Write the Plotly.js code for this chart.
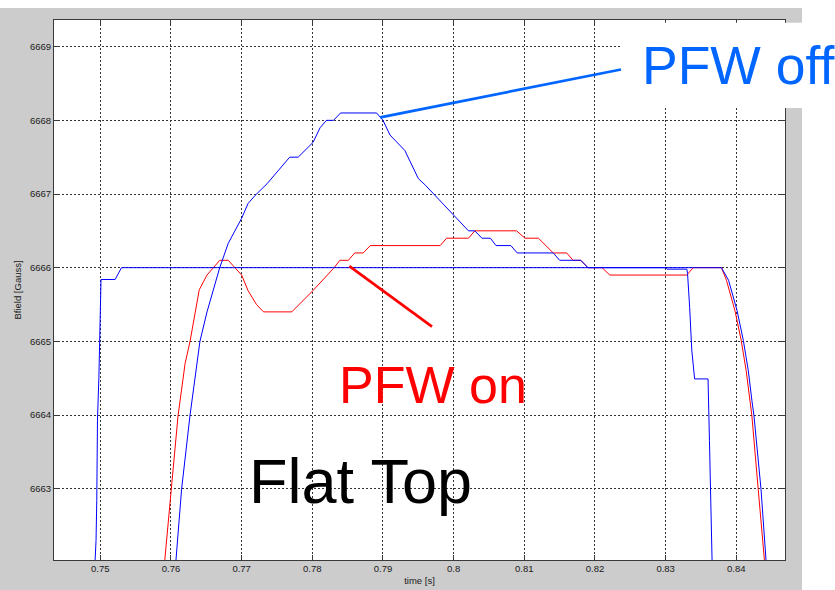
<!DOCTYPE html>
<html>
<head>
<meta charset="utf-8">
<script src="https://cdn.plot.ly/plotly-3.0.1.min.js"></script>
<style>html,body{margin:0;padding:0;background:#fff;}#chart{width:835px;height:590px;}</style>
</head>
<body>
<div id="chart"></div>
<script>
// Reference "flat top" waveform (blue)
const flatTopTime = [0.7492, 0.7494, 0.7495, 0.7496, 0.7498, 0.75005, 0.7501, 0.7521, 0.7530, 0.8300, 0.8302, 0.8330, 0.8331, 0.8334, 0.8337, 0.8341, 0.8360, 0.8362, 0.8366];
const flatTopB    = [6661.9, 6662.3, 6662.84, 6663.93, 6664.51, 6665.69, 6665.84, 6665.84, 6666.0, 6666.0, 6665.98, 6665.98, 6665.92, 6665.46, 6664.88, 6664.49, 6664.49, 6663.65, 6661.9];

// PFW off (blue)
const offTime = [0.7606, 0.7615, 0.7627, 0.7641, 0.7651, 0.7669, 0.7681, 0.7700, 0.7709, 0.7719, 0.7736, 0.7768, 0.7780, 0.7801, 0.7811, 0.7820, 0.7830, 0.7840, 0.7891, 0.7900, 0.7910, 0.7931, 0.7950, 0.7960, 0.8021, 0.8030, 0.8040, 0.8052, 0.8060, 0.8081, 0.8090, 0.8141, 0.8150, 0.8180, 0.8190, 0.8379, 0.8389, 0.8401, 0.8410, 0.8417, 0.8422, 0.8425, 0.8435, 0.8443];
const offB    = [6661.9, 6662.99, 6664.0, 6665.0, 6665.4, 6666.0, 6666.33, 6666.67, 6666.87, 6666.98, 6667.14, 6667.5, 6667.5, 6667.7, 6667.9, 6668.0, 6668.0, 6668.1, 6668.1, 6668.0, 6667.8, 6667.59, 6667.21, 6667.12, 6666.5, 6666.5, 6666.4, 6666.4, 6666.3, 6666.3, 6666.2, 6666.2, 6666.1, 6666.1, 6666.0, 6666.0, 6665.83, 6665.42, 6665.01, 6664.6, 6664.2, 6663.99, 6662.99, 6661.9];

// PFW on (red)
const onTime = [0.7590, 0.7600, 0.7610, 0.7620, 0.7627, 0.7640, 0.7651, 0.7669, 0.7681, 0.7700, 0.7709, 0.7721, 0.7731, 0.7771, 0.7801, 0.7830, 0.7839, 0.7851, 0.7860, 0.7872, 0.7882, 0.7981, 0.7990, 0.8021, 0.8030, 0.8089, 0.8101, 0.8120, 0.8141, 0.8160, 0.8169, 0.8180, 0.8190, 0.8210, 0.8221, 0.8330, 0.8339, 0.8379, 0.8386, 0.8398, 0.8407, 0.8414, 0.8419, 0.8422, 0.8431, 0.8441];
const onB    = [6661.9, 6662.99, 6663.99, 6664.7, 6665.0, 6665.7, 6665.9, 6666.1, 6666.1, 6665.9, 6665.69, 6665.5, 6665.4, 6665.4, 6665.69, 6665.99, 6666.1, 6666.1, 6666.2, 6666.2, 6666.3, 6666.3, 6666.4, 6666.4, 6666.5, 6666.5, 6666.4, 6666.4, 6666.2, 6666.2, 6666.1, 6666.1, 6666.0, 6666.0, 6665.9, 6665.9, 6666.0, 6666.0, 6665.83, 6665.42, 6665.01, 6664.6, 6664.2, 6663.99, 6662.99, 6661.9];

const xTickVals = [0.75, 0.76, 0.77, 0.78, 0.79, 0.80, 0.81, 0.82, 0.83, 0.84];
const xTickText = ["0.75", "0.76", "0.77", "0.78", "0.79", "0.8", "0.81", "0.82", "0.83", "0.84"];
const yTickVals = [6663, 6664, 6665, 6666, 6667, 6668, 6669];
const yTickText = ["6663", "6664", "6665", "6666", "6667", "6668", "6669"];

const labelOff = "PFW off";
const labelOn = "PFW on";
const labelFlat = "Flat Top";

const FONT = "Arial, 'Liberation Sans', sans-serif";
const W = 835, H = 590, ML = 54, MR = 50, MT = 20, MB = 30;
const PW = W - ML - MR, PH = H - MT - MB;
const px = v => (v - ML) / PW;      // page pixel -> paper x
const py = v => (H - MB - v) / PH;  // page pixel -> paper y

const traces = [
  {x: onTime, y: onB, type: 'scatter', mode: 'lines', line: {color: 'rgb(255,0,0)', width: 1}, hoverinfo: 'skip'},
  {x: offTime, y: offB, type: 'scatter', mode: 'lines', line: {color: 'rgb(0,0,255)', width: 1}, hoverinfo: 'skip'},
  {x: flatTopTime, y: flatTopB, type: 'scatter', mode: 'lines', line: {color: 'rgb(0,0,255)', width: 1}, hoverinfo: 'skip'}
];

const axisCommon = {
  showline: true, linecolor: '#3a3a3a', linewidth: 1, mirror: 'ticks',
  ticks: 'inside', ticklen: 5, tickcolor: '#3a3a3a', tickwidth: 1,
  showgrid: true, gridcolor: '#333333', gridwidth: 1, griddash: '2px,2px',
  zeroline: false, tickfont: {family: FONT, size: 9.5, color: '#1a1a1a'}
};

const layout = {
  width: W, height: H,
  margin: {l: ML, r: MR, t: MT, b: MB, pad: 0},
  paper_bgcolor: '#cccccc', plot_bgcolor: '#ffffff',
  showlegend: false,
  xaxis: Object.assign({}, axisCommon, {
    range: [0.743448, 0.84689], tickmode: 'array', tickvals: xTickVals, ticktext: xTickText,
    title: {text: 'time [s]', font: {family: FONT, size: 9.5, color: '#1a1a1a'}, standoff: 3}
  }),
  yaxis: Object.assign({}, axisCommon, {
    range: [6662.032, 6669.362], tickmode: 'array', tickvals: yTickVals, ticktext: yTickText,
    title: {text: 'Bfield [Gauss]', font: {family: FONT, size: 9.5, color: '#1a1a1a'}, standoff: 6}
  }),
  shapes: [
    {type: 'rect', xref: 'paper', yref: 'paper', x0: -0.2, x1: 1.2, y0: py(8), y1: 1.2, fillcolor: '#ffffff', line: {width: 0}, layer: 'above'},
    {type: 'rect', xref: 'paper', yref: 'paper', x0: px(802), x1: 1.2, y0: -0.2, y1: 1.2, fillcolor: '#ffffff', line: {width: 0}, layer: 'above'},
    {type: 'rect', xref: 'paper', yref: 'paper', x0: px(621), x1: 1.2, y0: py(108), y1: py(22.7), fillcolor: '#ffffff', line: {width: 0}, layer: 'above'},
    {type: 'line', xref: 'x', yref: 'y', x0: 0.78962, y0: 6668.04, x1: 0.82368, y1: 6668.69, line: {color: 'rgb(0,102,255)', width: 2.7}, layer: 'above'},
    {type: 'line', xref: 'x', yref: 'y', x0: 0.78524, y0: 6666.02, x1: 0.79694, y1: 6665.20, line: {color: 'rgb(255,0,0)', width: 2.7}, layer: 'above'}
  ],
  annotations: [
    {text: labelOff, xref: 'paper', yref: 'paper', x: px(639.5), y: py(65.9), xanchor: 'left', yanchor: 'middle', showarrow: false, font: {family: FONT, size: 53.5, color: 'rgb(0,102,255)'}},
    {text: labelOn, xref: 'paper', yref: 'paper', x: px(336.7), y: py(384.7), xanchor: 'left', yanchor: 'middle', showarrow: false, font: {family: FONT, size: 52, color: 'rgb(255,0,0)'}},
    {text: labelFlat, xref: 'paper', yref: 'paper', x: px(247), y: py(481.3), xanchor: 'left', yanchor: 'middle', showarrow: false, font: {family: FONT, size: 63, color: '#000000'}}
  ]
};

Plotly.newPlot('chart', traces, layout, {displayModeBar: false, staticPlot: true});
</script>
</body>
</html>
